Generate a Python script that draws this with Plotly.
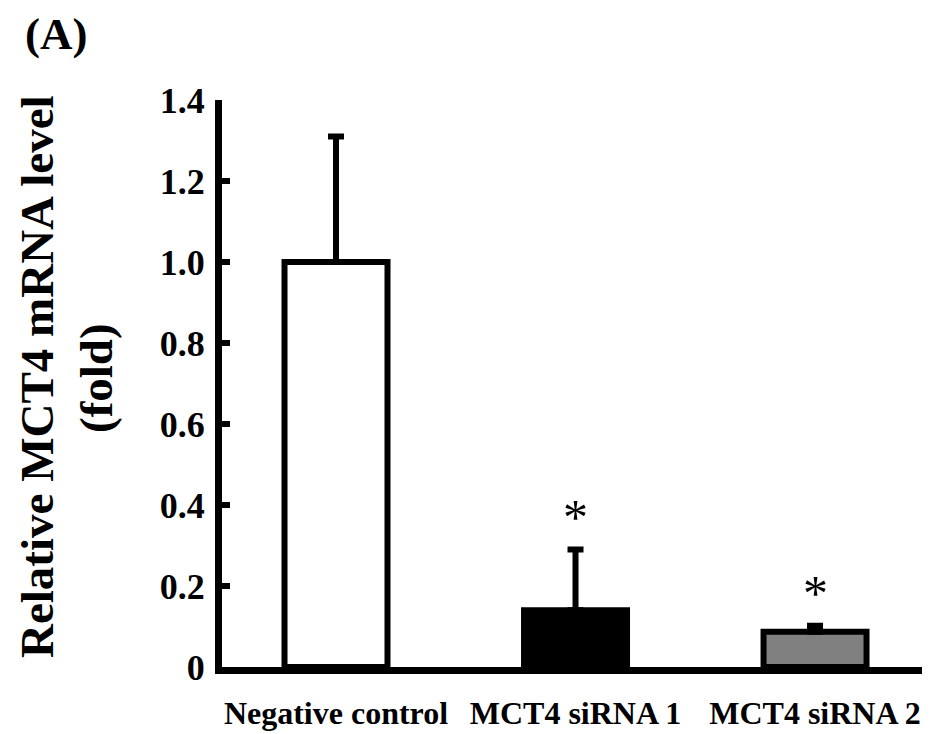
import plotly.graph_objects as go

categories = ["Negative control", "MCT4 siRNA 1", "MCT4 siRNA 2"]
values = [1.0, 0.14, 0.087]
errors = [0.31, 0.15, 0.015]
significance = ["", "*", "*"]
y_ticks = [0, 0.2, 0.4, 0.6, 0.8, 1.0, 1.2, 1.4]
y_tick_labels = ["0", "0.2", "0.4", "0.6", "0.8", "1.0", "1.2", "1.4"]
bar_colors = ["white", "black", "#808080"]

FONT = "Liberation Serif"

# page body has an 8px default margin; plot area in screen px: x 222..930, y 100..667
fig = go.Figure()
fig.add_trace(go.Bar(
    x=categories, y=values, width=0.43,
    marker=dict(color=bar_colors, line=dict(color="black", width=6)),
    error_y=dict(type="data", symmetric=False, array=errors,
                 arrayminus=[0] * len(values), color="black",
                 thickness=6, width=8),
    showlegend=False,
))

for c, v, e, s in zip(categories, values, errors, significance):
    if s:
        fig.add_annotation(x=c, y=v + e, text=s, showarrow=False,
                           yanchor="bottom", yshift=3,
                           font=dict(family=FONT, size=50, color="black"))

# y-axis title, two lines (rotated)
fig.add_annotation(xref="paper", yref="paper", x=(37 - 222) / 708, y=(667 - 377) / 567,
                   text="<b>Relative MCT4 mRNA level</b>",
                   textangle=-90, showarrow=False, xanchor="center", yanchor="middle",
                   font=dict(family=FONT, size=47, color="black"))
fig.add_annotation(xref="paper", yref="paper", x=(96 - 222) / 708, y=(667 - 378) / 567,
                   text="<b>(fold)</b>",
                   textangle=-90, showarrow=False, xanchor="center", yanchor="middle",
                   font=dict(family=FONT, size=47, color="black"))
fig.add_annotation(xref="paper", yref="paper", x=(56 - 222) / 708, y=(667 - 34) / 567,
                   xanchor="center", yanchor="middle",
                   text="<b>(A)</b>", showarrow=False,
                   font=dict(family=FONT, size=45, color="black"))

fig.update_layout(
    width=922, height=726,
    margin=dict(l=214, r=0, t=92, b=67, autoexpand=False),
    plot_bgcolor="white", paper_bgcolor="white",
    xaxis=dict(range=[-0.476, 2.48], showline=True, linecolor="black",
               linewidth=7, ticks="", showgrid=False, zeroline=False,
               automargin=False,
               tickvals=categories, ticktext=[f"<b>{c}</b>" for c in categories],
               tickfont=dict(family=FONT, size=32, color="black"),
               ticklabelstandoff=12),
    yaxis=dict(range=[0, 1.4], tickvals=y_ticks, ticktext=[f"<b>{t}</b>" for t in y_tick_labels],
               showline=True, linecolor="black", linewidth=7,
               ticks="inside", ticklen=8, tickwidth=6, tickcolor="black",
               showgrid=False, zeroline=False, automargin=False,
               tickfont=dict(family=FONT, size=36, color="black"),
               ticklabelstandoff=3),
)

fig.write_html("out.html")
